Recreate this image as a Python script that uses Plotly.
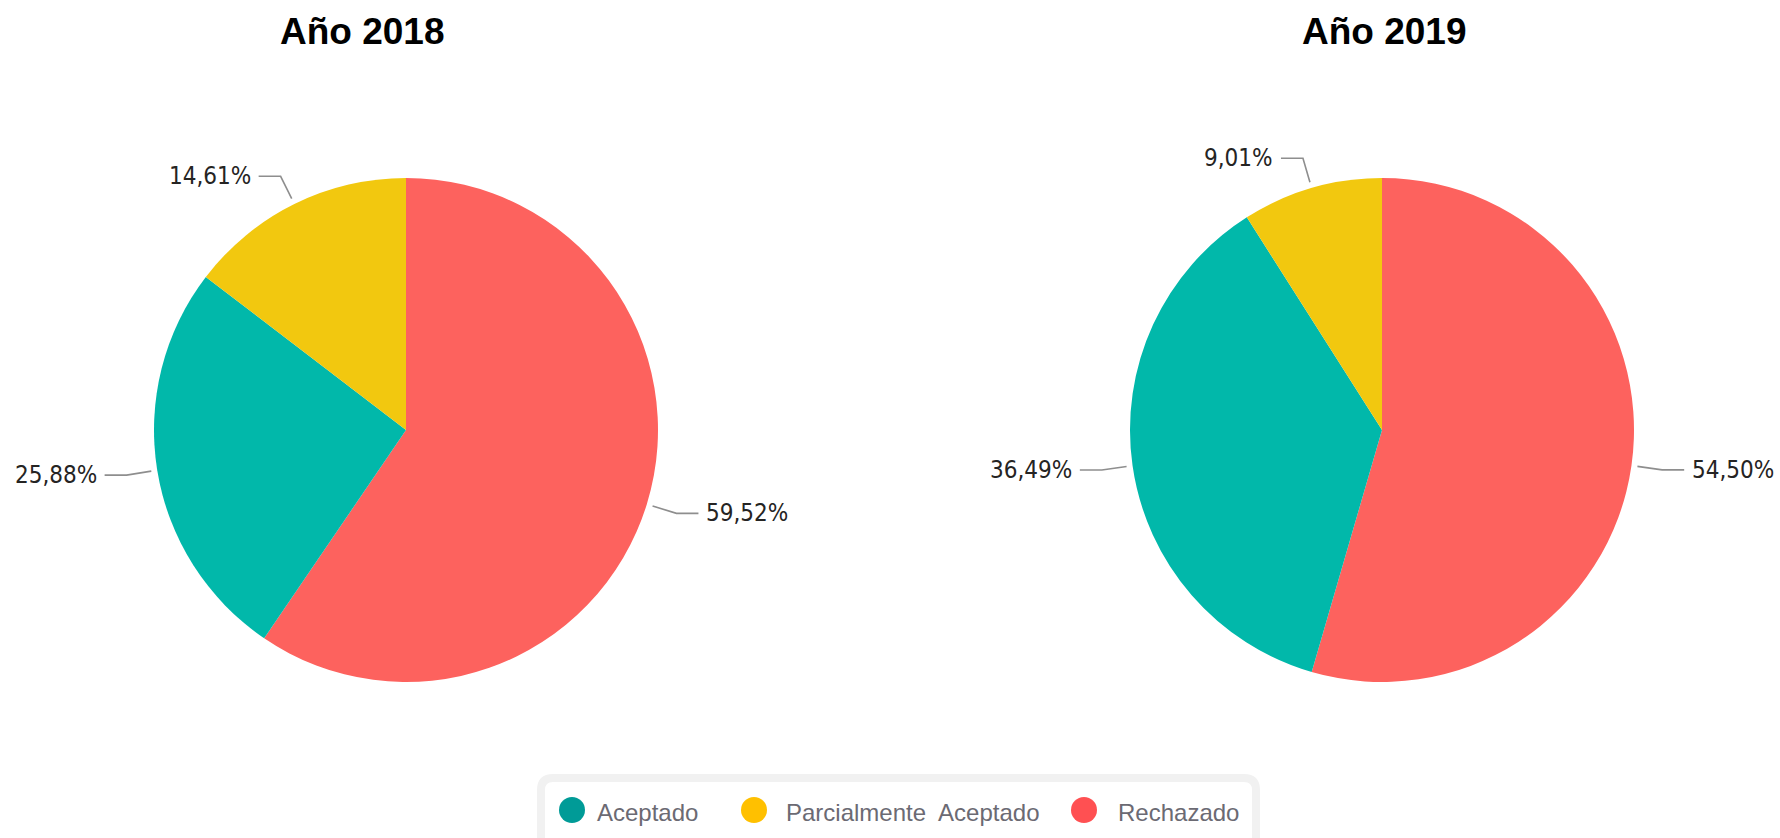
import math
import plotly.graph_objects as go

# ---------------- data ----------------
categories = ["Aceptado", "Parcialmente  Aceptado", "Rechazado"]
years = ["Año 2018", "Año 2019"]
values_2018 = [25.88, 14.61, 59.52]
values_2019 = [36.49, 9.01, 54.50]
slice_colors = ["#01B8AA", "#F2C80F", "#FD625E"]
legend_colors = ["#009B97", "#FFC000", "#FF5052"]

# ---------------- layout constants ----------------
W, H = 1780, 838
R = 252
CENTERS = [(406, 430), (1382, 430)]
TITLE_X = [362, 1384]
SLICE_ORDER = [2, 0, 1]  # Rechazado first, clockwise from 12 o'clock
LEG_DOT_X = [572, 754, 1084]
LEG_TEXT_X = [595, 784, 1116]
LEG_Y = 810


def fx(x):
    return x / W


def fy(y):
    return 1 - y / H


fig = go.Figure()
shapes = []
annotations = []

for (cx, cy), title, tx, vals in zip(CENTERS, years, TITLE_X, [values_2018, values_2019]):
    labels = [categories[i] for i in SLICE_ORDER]
    v = [vals[i] for i in SLICE_ORDER]
    cols = [slice_colors[i] for i in SLICE_ORDER]
    fig.add_trace(go.Pie(
        labels=labels, values=v, sort=False, direction="clockwise", rotation=0,
        marker=dict(colors=cols, line=dict(width=0)),
        textinfo="none", showlegend=False, name=title,
        domain=dict(x=[fx(cx - R), fx(cx + R)], y=[fy(cy + R), fy(cy - R)]),
        hovertemplate="%{label}: %{value}%<extra></extra>",
    ))
    annotations.append(dict(
        x=fx(tx), y=fy(31), xref="paper", yref="paper", xanchor="center", yanchor="middle",
        text="<b>%s</b>" % title, showarrow=False,
        font=dict(family="Liberation Sans, Arial, sans-serif", size=37, color="#000000"),
    ))
    total = sum(v)
    cum = 0.0
    for lab, val in zip(labels, v):
        mid = (cum + val / 2) / total * 2 * math.pi
        cum += val
        s, c = math.sin(mid), math.cos(mid)
        x1, y1 = cx + (R + 6) * s, cy - (R + 6) * c
        x2, y2 = cx + (R + 31) * s, cy - (R + 31) * c
        side = 1 if s > 0 else -1
        x3 = x2 + side * 22
        shapes.append(dict(
            type="path", xref="paper", yref="paper",
            path="M %f,%f L %f,%f L %f,%f" % (fx(x1), fy(y1), fx(x2), fy(y2), fx(x3), fy(y2)),
            line=dict(color="#8E8E8E", width=1.6),
        ))
        annotations.append(dict(
            x=fx(x3 + side * 6), y=fy(y2), xref="paper", yref="paper",
            xanchor="left" if side > 0 else "right", yanchor="middle",
            text=("%.2f" % val).replace(".", ",") + "%", showarrow=False,
            font=dict(family="DejaVu Sans Condensed, DejaVu Sans, sans-serif", size=24, color="#252423"),
        ))

# ---------------- custom legend ----------------
bx0, by0, bx1, by1, rr = 541, 778, 1256, 860, 12
pts = [
    ("M", [(bx0 + rr, by0)]), ("L", [(bx1 - rr, by0)]), ("Q", [(bx1, by0), (bx1, by0 + rr)]),
    ("L", [(bx1, by1 - rr)]), ("Q", [(bx1, by1), (bx1 - rr, by1)]), ("L", [(bx0 + rr, by1)]),
    ("Q", [(bx0, by1), (bx0, by1 - rr)]), ("L", [(bx0, by0 + rr)]), ("Q", [(bx0, by0), (bx0 + rr, by0)]),
]
path = " ".join(cmd + " " + " ".join("%f,%f" % (fx(px), fy(py)) for px, py in p) for cmd, p in pts) + " Z"
shapes.append(dict(type="path", xref="paper", yref="paper", path=path,
                   line=dict(color="#F1F1F1", width=8), fillcolor="rgba(0,0,0,0)", layer="below"))

DOT = 13
for name, col, dx, tx in zip(categories, legend_colors, LEG_DOT_X, LEG_TEXT_X):
    shapes.append(dict(type="circle", xref="paper", yref="paper",
                       x0=fx(dx - DOT), x1=fx(dx + DOT), y0=fy(LEG_Y + DOT), y1=fy(LEG_Y - DOT),
                       fillcolor=col, line=dict(width=0)))
    annotations.append(dict(
        x=fx(tx), y=fy(LEG_Y + 2), xref="paper", yref="paper", xanchor="left", yanchor="middle",
        text=name.replace("  ", "\u00a0 "), showarrow=False,
        font=dict(family="Liberation Sans, Arial, sans-serif", size=24, color="#6B6A73"),
    ))

fig.update_layout(
    width=W, height=H, margin=dict(l=0, r=0, t=0, b=0),
    paper_bgcolor="#FFFFFF", plot_bgcolor="#FFFFFF",
    showlegend=False, shapes=shapes, annotations=annotations,
)

fig.write_html("out.html", config={"displayModeBar": False},
               post_script="document.body.style.margin='0';document.body.style.overflow='hidden';")
